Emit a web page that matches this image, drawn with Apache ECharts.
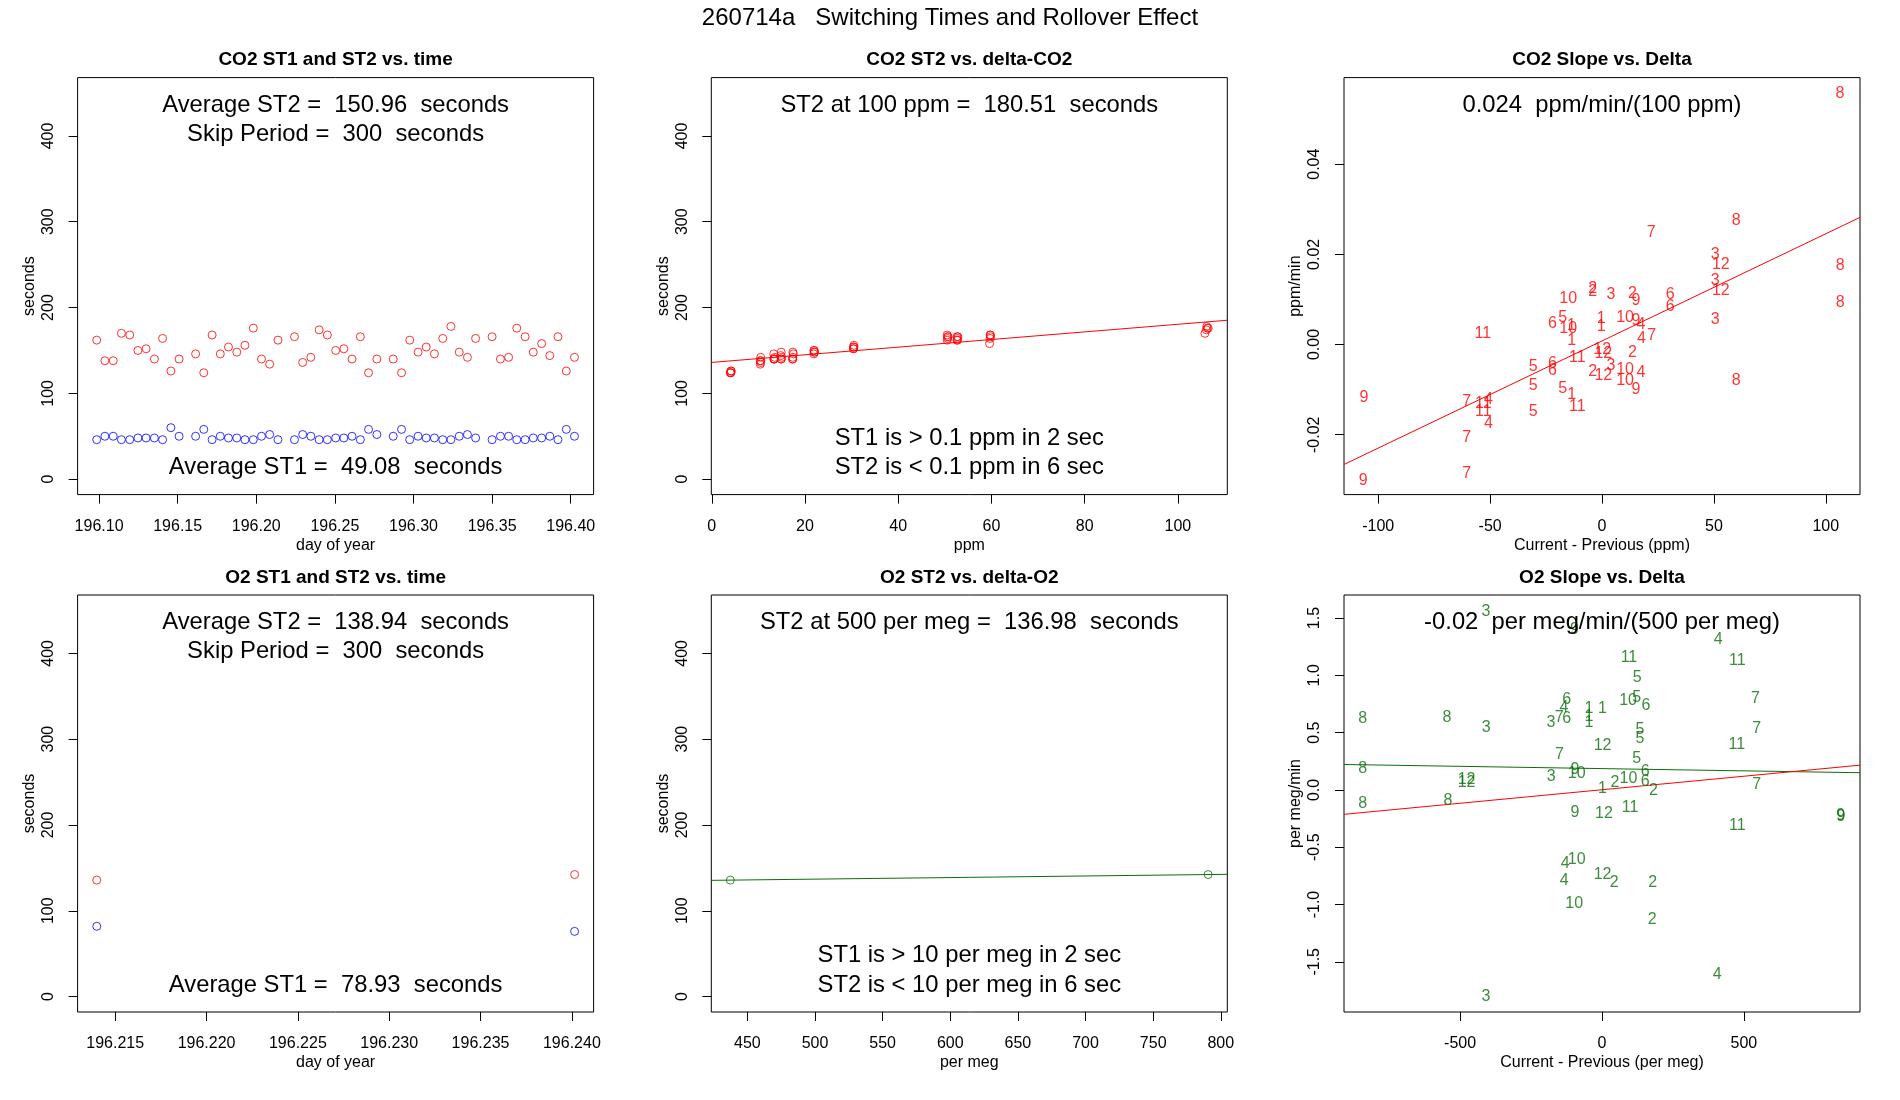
<!DOCTYPE html>
<html><head><meta charset="utf-8">
<script src="https://cdn.jsdelivr.net/npm/echarts@6/dist/echarts.min.js"></script>
<style>html,body{margin:0;padding:0;background:#fff}#c{width:1900px;height:1100px}</style>
</head><body><div id="c"></div><script>
// ---------------- DATA ----------------
const mainTitle = '260714a   Switching Times and Rollover Effect';
const panelTitles = ['CO2 ST1 and ST2 vs. time','CO2 ST2 vs. delta-CO2','CO2 Slope vs. Delta',
  'O2 ST1 and ST2 vs. time','O2 ST2 vs. delta-O2','O2 Slope vs. Delta'];

// Panel 1: CO2 switching times vs day of year
const co2Day = [196.0985,196.1037,196.1090,196.1142,196.1195,196.1247,196.1299,196.1352,196.1404,196.1457,196.1509,
  196.1614,196.1666,196.1719,196.1771,196.1823,196.1876,196.1928,196.1981,196.2033,196.2085,196.2138,
  196.2243,196.2295,196.2347,196.2400,196.2452,196.2505,196.2557,196.2609,196.2662,196.2714,196.2767,
  196.2871,196.2924,196.2976,196.3029,196.3081,196.3133,196.3186,196.3238,196.3291,196.3343,196.3395,
  196.3500,196.3553,196.3605,196.3657,196.3710,196.3762,196.3815,196.3867,196.3919,196.3972,196.4024];
const co2ST2 = [162,138,138,170,168,150,152,140,164,126,140,
  146,124,168,146,154,148,156,176,140,134,162,
  166,136,142,174,168,150,152,140,166,124,140,
  140,124,162,148,154,146,164,178,148,142,164,
  166,140,142,176,166,148,158,144,166,126,142];
const co2ST1 = [46,50,50,46,46,48,48,48,46,60,50,
  50,58,46,50,48,48,46,46,50,52,46,
  46,52,50,46,46,48,48,50,46,58,52,
  50,58,46,50,48,48,46,46,50,52,48,
  46,50,50,46,46,48,48,50,46,58,50];

// Panel 2: CO2 ST2 vs |delta CO2|
const co2Delta = [4.0,4.1,4.0,4.1,4.2, 10.4,10.5,10.5,10.4,10.5, 13.3,13.4,13.4,13.5,13.3,
  14.9,14.9,15.0,14.8,14.9, 17.4,17.3,17.4,17.5,17.4, 21.9,22.0,22.0,21.9,22.0,
  30.4,30.4,30.5,30.4,30.5, 50.5,50.6,50.6,50.7,50.5, 52.6,52.7,52.7,52.8,52.6,
  59.6,59.7,59.8,59.7,59.8, 105.8,106.1,106.3,106.5,106.2];
const co2ST2ByDelta = [124,124,124,126,126, 134,136,138,138,142, 140,140,140,142,146,
  140,140,142,144,148, 140,140,142,146,148, 146,148,148,150,150,
  152,152,154,154,156, 162,164,166,166,168, 162,162,164,166,166,
  158,164,166,168,168, 170,174,176,176,178];
const co2FitX = [-0.1, 110.6];
const co2FitY = [136.0, 185.2];

// Panel 3: CO2 slope vs delta (labelled by position)
const co2SlopeLabel = ['8','8','7','3','12','8','3','12','2','2','3','2','9','10','6','6','8','5','6','10',
  '1','1','1','10','9','4','3','11','4','7','1','12','12','2','11','6','6','5','3','10',
  '4','2','12','10','5','5','9','1','11','5','7','11','4','11','4','7','9','7','9','8'];
const co2SlopeDelta = [106.3,60.0,22.0,50.6,53.1,106.5,50.6,53.1,-4.2,-4.2,4.0,13.6,15.2,-15.1,30.5,30.5,106.5,-17.6,-22.2,-15.1,
  -13.6,-0.4,-0.4,10.3,15.2,17.4,50.6,-53.3,17.6,22.2,-13.5,0.1,0.6,13.6,-11.0,-22.2,-22.2,-30.7,4.0,10.3,
  17.4,-4.2,0.6,10.3,-30.7,-17.6,15.2,-13.5,-11.0,-30.7,-60.5,-53.0,-50.8,-53.0,-50.8,-60.5,-106.4,-60.5,-106.7,60.0];
const co2SlopeValue = [0.0557,0.0274,0.0249,0.0200,0.0178,0.0174,0.0141,0.0119,0.0124,0.0117,0.0110,0.0113,0.0097,0.0101,0.0110,0.0085,0.0093,0.0060,0.0047,0.0036,
  0.0041,0.0058,0.0039,0.0060,0.0054,0.0045,0.0056,0.0025,0.0014,0.0019,0.0008,-0.0011,-0.0020,-0.0018,-0.0029,-0.0042,-0.0057,-0.0049,-0.0047,-0.0055,
  -0.0062,-0.0060,-0.0068,-0.0079,-0.0090,-0.0098,-0.0100,-0.0112,-0.0137,-0.0149,-0.0126,-0.0131,-0.0123,-0.0149,-0.0176,-0.0206,-0.0118,-0.0286,-0.0301,-0.0081];
const co2SlopeFitX = [-115.3, 115.3];
const co2SlopeFitY = [-0.0266, 0.0282];

// Panel 4: O2 switching times vs day of year
const o2Day = [196.21399, 196.24015];
const o2ST2 = [135.7, 142.18];
const o2ST1 = [81.9, 75.96];

// Panel 5: O2 ST2 vs |delta O2|
const o2Delta = [437.4, 790.6];
const o2ST2ByDelta = [135.7, 142.18];
const o2FitX = [423.3, 804.8];
const o2FitY = [135.44, 142.46];

// Panel 6: O2 slope vs delta (labelled by position)
const o2SlopeLabel = ['3','9','4','11','11','5','7','10','5','6','8','8','3','6','4','3','7','6','1','1',
  '1','1','12','5','5','11','7','7','5','8','12','12','3','9','10','10','6','6','2','1',
  '2','7','8','8','9','12','11','9','9','11','4','10','12','2','4','2','10','2','4','3'];
const o2SlopeDelta = [-409,-97,409,95,477,124,541,92,122,155,-843,-546,-408,-124,-134,-180,-151,-124,-46,2,
  -46,-46,2,134,134,475,545,-150,122,-843,-477,-477,-179,-95,-89,93,152,152,46,2,
  181,545,-843,-543,-95,7,99,841,842,477,-130,-89,2,43,-133,179,-98,177,406,-409];
const o2SlopeValue = [1.56,1.40,1.314,1.157,1.125,0.979,0.80,0.776,0.805,0.732,0.621,0.627,0.546,0.784,0.721,0.587,0.633,0.625,0.712,0.712,
  0.639,0.586,0.386,0.523,0.45,0.398,0.538,0.305,0.276,0.186,0.09,0.06,0.115,0.18,0.145,0.101,0.16,0.07,0.063,0.014,
  -0.007,0.043,-0.12,-0.09,-0.199,-0.204,-0.152,-0.225,-0.23,-0.312,-0.641,-0.606,-0.743,-0.81,-0.792,-0.807,-0.99,-1.129,-1.609,-1.804];
const o2SlopeFitX = [-909, 909];
const o2SlopeFitGreenY = [0.222, 0.150];
const o2SlopeFitRedY = [-0.213, 0.216];

// Tick labels / annotations
const timeTicksCO2 = [196.10,196.15,196.20,196.25,196.30,196.35,196.40];
const timeTicksO2 = [196.215,196.220,196.225,196.230,196.235,196.240];
const secTicks = [0,100,200,300,400];
const ppmTicks = [0,20,40,60,80,100];
const co2DeltaTicks = [-100,-50,0,50,100];
const co2SlopeTicks = [-0.02,0,0.02,0.04];
const permegTicks = [450,500,550,600,650,700,750,800];
const o2DeltaTicks = [-500,0,500];
const o2SlopeTicks = [-1.5,-1,-0.5,0,0.5,1,1.5];
const texts = {
  p1: ['Average ST2 =  150.96  seconds','Skip Period =  300  seconds','Average ST1 =  49.08  seconds'],
  p2: ['ST2 at 100 ppm =  180.51  seconds','ST1 is > 0.1 ppm in 2 sec','ST2 is < 0.1 ppm in 6 sec'],
  p3: ['0.024  ppm/min/(100 ppm)'],
  p4: ['Average ST2 =  138.94  seconds','Skip Period =  300  seconds','Average ST1 =  78.93  seconds'],
  p5: ['ST2 at 500 per meg =  136.98  seconds','ST1 is > 10 per meg in 2 sec','ST2 is < 10 per meg in 6 sec'],
  p6: ['-0.02  per meg/min/(500 per meg)']
};

// ---------------- LAYOUT ----------------
const FONT = '"Liberation Sans", Arial, sans-serif';
const BW = 516, BH = 417;
const boxes = [[77.6,77.6],[711.3,77.6],[1344,77.6],[77.6,595],[711.3,595],[1344,595]];
const RED = '#ff0000', BLUE = '#0000ff', GREEN = '#0b6e0b';

const grids = boxes.map(b => ({left:b[0], top:b[1], width:BW, height:BH, show:true,
  borderColor:'#000', borderWidth:1, backgroundColor:'transparent', containLabel:false, outerBoundsMode:'none'}));

function xAx(i, min, max, ticks, dec, name) {
  return {gridIndex:i, type:'value', min, max, scale:true,
    axisLine:{show:false, onZero:false}, splitLine:{show:false},
    axisTick:{show:true, length:9, inside:false, customValues:ticks, lineStyle:{color:'#000', width:1}},
    axisLabel:{show:true, customValues:ticks, margin:24, fontSize:16, color:'#000', fontFamily:FONT,
      formatter: v => Number(v).toFixed(dec)},
    name, nameLocation:'middle', nameGap:42.5, nameTextStyle:{fontSize:16, color:'#000', fontFamily:FONT}};
}
function yAx(i, min, max, ticks, dec, name) {
  return {gridIndex:i, type:'value', min, max, scale:true,
    axisLine:{show:false, onZero:false}, splitLine:{show:false},
    axisTick:{show:true, length:9, inside:false, customValues:ticks, lineStyle:{color:'#000', width:1}},
    axisLabel:{show:true, customValues:ticks, margin:21, rotate:90, fontSize:16, color:'#000', fontFamily:FONT,
      formatter: v => Number(v).toFixed(dec)},
    name, nameLocation:'middle', nameGap:40, nameRotate:90, nameTextStyle:{fontSize:16, color:'#000', fontFamily:FONT}};
}

const xAxes = [
  xAx(0, 196.08634, 196.41456, timeTicksCO2, 2, 'day of year'),
  xAx(1, -0.1, 110.6, ppmTicks, 0, 'ppm'),
  xAx(2, -115.3, 115.3, co2DeltaTicks, 0, 'Current - Previous (ppm)'),
  xAx(3, 196.21294, 196.24119, timeTicksO2, 3, 'day of year'),
  xAx(4, 423.3, 804.8, permegTicks, 0, 'per meg'),
  xAx(5, -909, 909, o2DeltaTicks, 0, 'Current - Previous (per meg)')
];
const yAxes = [
  yAx(0, -18, 468, secTicks, 0, 'seconds'),
  yAx(1, -18, 468, secTicks, 0, 'seconds'),
  yAx(2, -0.03328, 0.0592, co2SlopeTicks, 2, 'ppm/min'),
  yAx(3, -18, 468, secTicks, 0, 'seconds'),
  yAx(4, -18, 468, secTicks, 0, 'seconds'),
  yAx(5, -1.938, 1.701, o2SlopeTicks, 1, 'per meg/min')
];

const zip = (a, b) => a.map((v, i) => [v, b[i]]);
function circles(i, xs, ys, color) {
  return {type:'scatter', xAxisIndex:i, yAxisIndex:i, data:zip(xs, ys), symbol:'circle', symbolSize:8,
    itemStyle:{color:'rgba(0,0,0,0)', borderColor:color, borderWidth:1}, silent:true, z:3};
}
function fitLine(i, xs, ys, color) {
  return {type:'line', xAxisIndex:i, yAxisIndex:i, data:zip(xs, ys), symbol:'none',
    lineStyle:{color, width:1}, silent:true, z:2};
}
function labels(i, labs, xs, ys, color) {
  return {type:'scatter', xAxisIndex:i, yAxisIndex:i, symbol:'circle', symbolSize:0.1,
    itemStyle:{color:'rgba(0,0,0,0)'}, silent:true, z:4,
    data: labs.map((l, k) => ({value:[xs[k], ys[k]], lab:l})),
    label:{show:true, position:'inside', formatter: p => p.data.lab, color, fontSize:16, fontFamily:FONT}};
}

const series = [
  circles(0, co2Day, co2ST2, RED),
  circles(0, co2Day, co2ST1, BLUE),
  fitLine(1, co2FitX, co2FitY, RED),
  circles(1, co2Delta, co2ST2ByDelta, RED),
  fitLine(2, co2SlopeFitX, co2SlopeFitY, RED),
  labels(2, co2SlopeLabel, co2SlopeDelta, co2SlopeValue, RED),
  circles(3, o2Day, o2ST2, RED),
  circles(3, o2Day, o2ST1, BLUE),
  fitLine(4, o2FitX, o2FitY, GREEN),
  circles(4, o2Delta, o2ST2ByDelta, GREEN),
  fitLine(5, o2SlopeFitX, o2SlopeFitGreenY, GREEN),
  fitLine(5, o2SlopeFitX, o2SlopeFitRedY, RED),
  labels(5, o2SlopeLabel, o2SlopeDelta, o2SlopeValue, GREEN)
];

// texts
function txt(x, y, s, font) {
  return {type:'text', x, y, z:10, silent:true,
    style:{text:s, fill:'#000', font, align:'center', verticalAlign:'middle'}};
}
const graphics = [txt(950, 18, mainTitle, '24px ' + FONT)];
boxes.forEach((b, i) => {
  const cx = b[0] + BW / 2;
  graphics.push(txt(cx, b[1] - 17.5, panelTitles[i], 'bold 19px ' + FONT));
});
const big = '23.8px ' + FONT;
function topTexts(i, arr) { const b = boxes[i], cx = b[0] + BW/2; arr.forEach((s, k) => graphics.push(txt(cx, b[1] + 27.8 + 29.1*k, s, big))); }
function botTexts(i, arr) { const b = boxes[i], cx = b[0] + BW/2; const n = arr.length; arr.forEach((s, k) => graphics.push(txt(cx, b[1] + BH - 27 - 29.1*(n-1-k), s, big))); }
topTexts(0, texts.p1.slice(0,2)); botTexts(0, texts.p1.slice(2));
topTexts(1, texts.p2.slice(0,1)); botTexts(1, texts.p2.slice(1));
topTexts(2, texts.p3);
topTexts(3, texts.p4.slice(0,2)); botTexts(3, texts.p4.slice(2));
topTexts(4, texts.p5.slice(0,1)); botTexts(4, texts.p5.slice(1));
topTexts(5, texts.p6);

const chart = echarts.init(document.getElementById('c'), null, {renderer:'canvas'});
chart.setOption({
  animation:false,
  backgroundColor:'#ffffff',
  textStyle:{fontFamily:FONT},
  grid:grids, xAxis:xAxes, yAxis:yAxes, series, graphic:graphics
});
</script></body></html>
